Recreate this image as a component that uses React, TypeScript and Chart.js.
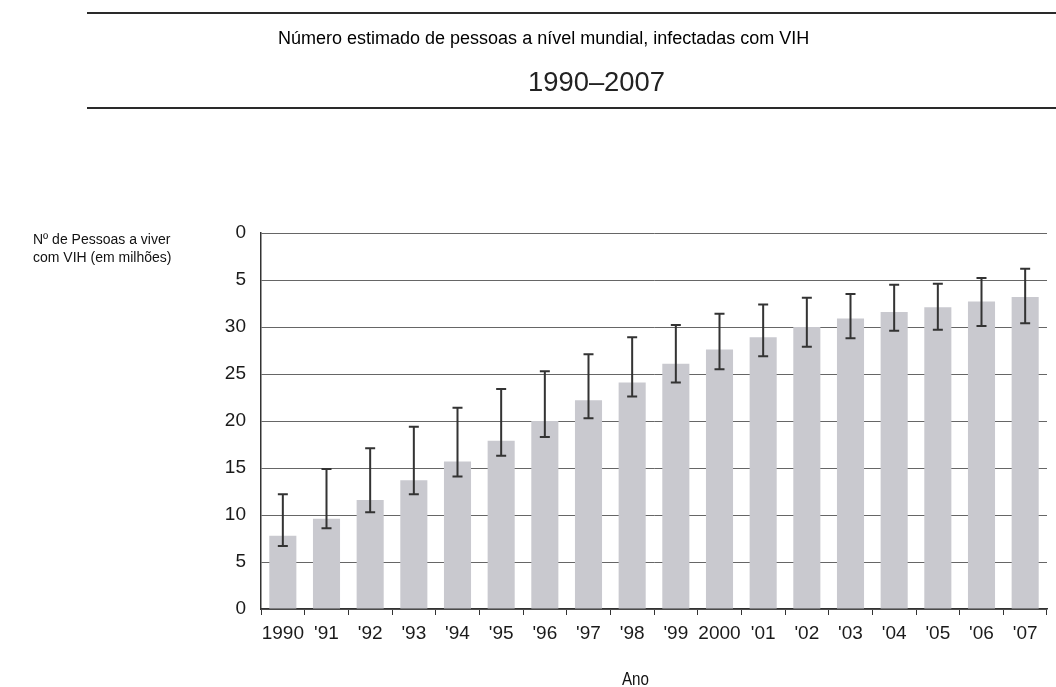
import React, { useEffect, useRef } from "react";
import { Chart, registerables } from "chart.js";

Chart.register(...registerables);

const categories = ["1990", "'91", "'92", "'93", "'94", "'95", "'96", "'97", "'98", "'99", "2000", "'01", "'02", "'03", "'04", "'05", "'06", "'07"];
const values = [7.8, 9.6, 11.6, 13.7, 15.7, 17.9, 20.0, 22.2, 24.1, 26.1, 27.6, 28.9, 30.0, 30.9, 31.6, 32.1, 32.7, 33.2];
const errLow = [6.7, 8.6, 10.3, 12.2, 14.1, 16.3, 18.3, 20.3, 22.6, 24.1, 25.5, 26.9, 27.9, 28.8, 29.6, 29.7, 30.1, 30.4];
const errHigh = [12.2, 14.9, 17.1, 19.4, 21.4, 23.4, 25.3, 27.1, 28.9, 30.2, 31.4, 32.4, 33.1, 33.5, 34.5, 34.6, 35.2, 36.2];
const yTickLabels = ["0", "5", "10", "15", "20", "25", "30", "5", "0"];

const title = "Número estimado de pessoas a nível mundial, infectadas com VIH";
const subtitle = "1990–2007";
const yLabelLines = ["Nº de Pessoas a viver", "com VIH (em milhões)"];
const xLabel = "Ano";

const SANS = "'Liberation Sans', Arial, sans-serif";

export default function App() {
  const ref = useRef<HTMLCanvasElement | null>(null);

  useEffect(() => {
    if (!ref.current) return;

    const decor = {
      id: "decor",
      afterDraw(chart: any) {
        const ctx = chart.ctx;
        ctx.save();
        ctx.strokeStyle = "#2a2a2a";
        ctx.lineWidth = 2;
        ctx.beginPath();
        ctx.moveTo(87, 13);
        ctx.lineTo(1056, 13);
        ctx.moveTo(87, 108);
        ctx.lineTo(1056, 108);
        ctx.stroke();

        ctx.fillStyle = "#000";
        ctx.textBaseline = "middle";
        ctx.textAlign = "left";
        ctx.font = `18px ${SANS}`;
        ctx.fillText(title, 278, 39, 611);

        ctx.fillStyle = "#222";
        ctx.font = `28px ${SANS}`;
        ctx.fillText(subtitle, 528, 83, 137);

        ctx.fillStyle = "#111";
        ctx.font = `14px ${SANS}`;
        ctx.fillText(yLabelLines[0], 33, 240, 155);
        ctx.fillText(yLabelLines[1], 33, 258, 155);

        ctx.font = `18px ${SANS}`;
        ctx.fillText(xLabel, 622, 680, 27);
        ctx.restore();
      },
    };

    const errorBars = {
      id: "errorBars",
      afterDatasetsDraw(chart: any) {
        const ctx = chart.ctx;
        const meta = chart.getDatasetMeta(0);
        const ys = chart.scales.y;
        ctx.save();
        ctx.strokeStyle = "#333";
        ctx.lineWidth = 2;
        meta.data.forEach((bar: any, i: number) => {
          const x = bar.x;
          const yHi = ys.getPixelForValue(errHigh[i]);
          const yLo = ys.getPixelForValue(errLow[i]);
          ctx.beginPath();
          ctx.moveTo(x, yHi);
          ctx.lineTo(x, yLo);
          ctx.moveTo(x - 5, yHi);
          ctx.lineTo(x + 5, yHi);
          ctx.moveTo(x - 5, yLo);
          ctx.lineTo(x + 5, yLo);
          ctx.stroke();
        });
        ctx.restore();
      },
    };

    const chart = new Chart(ref.current, {
      type: "bar",
      data: {
        labels: categories,
        datasets: [
          {
            data: values,
            backgroundColor: "#c9c9cf",
            borderWidth: 0,
            categoryPercentage: 1,
            barPercentage: 0.62,
          },
        ],
      },
      options: {
        responsive: false,
        animation: false,
        layout: { padding: { left: 221, right: 9, top: 233, bottom: 38 } },
        plugins: { legend: { display: false }, tooltip: { enabled: false }, title: { display: false } },
        scales: {
          x: {
            afterFit: (s: any) => { s.height = 40; },
            grid: {
              offset: true,
              drawOnChartArea: false,
              drawTicks: true,
              tickLength: 6,
              color: "#333",
            },
            border: { display: true, color: "#333", width: 1.5 },
            ticks: {
              color: "#1a1a1a",
              padding: 7,
              font: { family: SANS, size: 19 },
              maxRotation: 0,
              autoSkip: false,
            },
          },
          y: {
            min: 0,
            max: 40,
            afterFit: (s: any) => { s.width = 40; },
            grid: { color: "#666", lineWidth: 1, drawTicks: false },
            border: { display: true, color: "#333", width: 1.5 },
            ticks: {
              stepSize: 5,
              padding: 15,
              color: "#1a1a1a",
              font: { family: SANS, size: 19 },
              callback: (_v: any, i: number) => yTickLabels[i],
            },
          },
        },
      },
      plugins: [errorBars, decor],
    });

    return () => chart.destroy();
  }, []);

  return (
    <div style={{ position: "fixed", left: 0, top: 0, width: 1056, height: 687, background: "#fff" }}>
      <canvas ref={ref} width={1056} height={687} />
    </div>
  );
}
